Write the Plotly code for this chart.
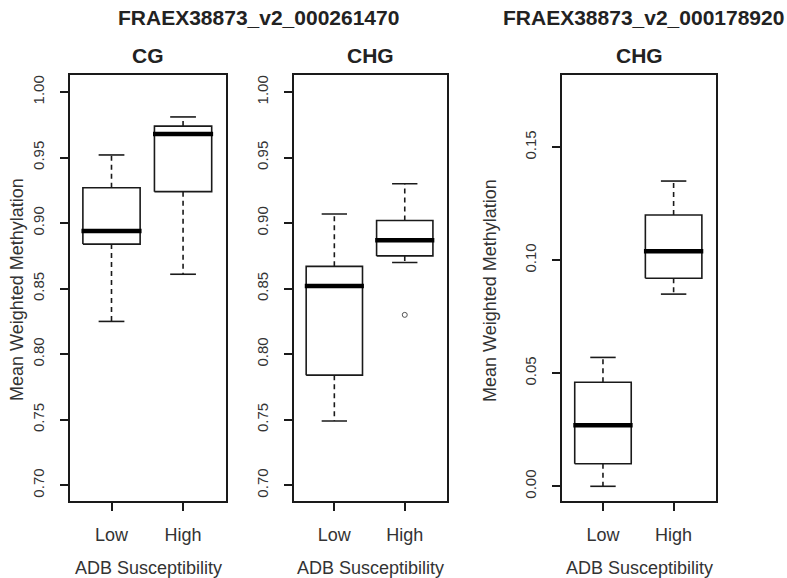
import plotly.graph_objects as go

# groups on the x axis
groups = ['Low', 'High']
xpos = [1, 2]

# five-number summaries (lower whisker, Q1, median, Q3, upper whisker)
cg_lo = [0.825, 0.861]
cg_q1 = [0.884, 0.924]
cg_med = [0.894, 0.968]
cg_q3 = [0.927, 0.974]
cg_hi = [0.952, 0.981]

chg1_lo = [0.749, 0.870]
chg1_q1 = [0.784, 0.875]
chg1_med = [0.852, 0.887]
chg1_q3 = [0.867, 0.902]
chg1_hi = [0.907, 0.930]
chg1_out_x = [2]
chg1_out_y = [0.830]

chg2_lo = [0.000, 0.085]
chg2_q1 = [0.010, 0.092]
chg2_med = [0.027, 0.104]
chg2_q3 = [0.046, 0.120]
chg2_hi = [0.057, 0.135]

gene_titles = ['FRAEX38873_v2_000261470', 'FRAEX38873_v2_000178920']
panel_titles = ['CG', 'CHG', 'CHG']
y_ticks_12 = [0.70, 0.75, 0.80, 0.85, 0.90, 0.95, 1.00]
y_ticks_3 = [0.00, 0.05, 0.10, 0.15]

W, H = 787, 578
FONT = 'Liberation Sans'
INK = '#1a1a1a'
BOXW = 0.4   # half box width in x units
CAPW = 0.18  # half staple width

fig = go.Figure()


def addBoxes(ax, lo, q1, med, q3, hi):
    xa = 'x' if ax == 1 else 'x%d' % ax
    ya = 'y' if ax == 1 else 'y%d' % ax
    for i, x in enumerate(xpos):
        # box outline
        fig.add_trace(go.Scatter(x=[x - BOXW, x + BOXW, x + BOXW, x - BOXW, x - BOXW],
                                 y=[q1[i], q1[i], q3[i], q3[i], q1[i]],
                                 mode='lines', line=dict(color=INK, width=1.6),
                                 xaxis=xa, yaxis=ya, hoverinfo='skip'))
        # dashed whiskers
        fig.add_trace(go.Scatter(x=[x, x, None, x, x],
                                 y=[q3[i], hi[i], None, q1[i], lo[i]],
                                 mode='lines', line=dict(color=INK, width=1.6, dash='5px,4px'),
                                 xaxis=xa, yaxis=ya, hoverinfo='skip'))
        # staples
        fig.add_trace(go.Scatter(x=[x - CAPW, x + CAPW, None, x - CAPW, x + CAPW],
                                 y=[hi[i], hi[i], None, lo[i], lo[i]],
                                 mode='lines', line=dict(color=INK, width=1.6),
                                 xaxis=xa, yaxis=ya, hoverinfo='skip'))
        # thick median
        fig.add_trace(go.Scatter(x=[x - BOXW - 0.02, x + BOXW + 0.02],
                                 y=[med[i], med[i]],
                                 mode='lines', line=dict(color='black', width=4.5),
                                 xaxis=xa, yaxis=ya, hoverinfo='skip'))


addBoxes(1, cg_lo, cg_q1, cg_med, cg_q3, cg_hi)
addBoxes(2, chg1_lo, chg1_q1, chg1_med, chg1_q3, chg1_hi)
addBoxes(3, chg2_lo, chg2_q1, chg2_med, chg2_q3, chg2_hi)
fig.add_trace(go.Scatter(x=chg1_out_x, y=chg1_out_y, mode='markers',
                         marker=dict(symbol='circle-open', size=5, color='#555', line=dict(width=1)),
                         xaxis='x2', yaxis='y2', hoverinfo='skip'))

xdoms = [[70 / W, 226 / W], [293.5 / W, 447 / W], [562 / W, 716 / W]]
ydom = [77 / H, 503 / H]

axis_common = dict(showline=True, linecolor=INK, linewidth=1.6, mirror=True,
                   showgrid=False, zeroline=False, ticks='outside', ticklen=8,
                   tickcolor=INK, tickwidth=1.6)

layout = dict(width=W, height=H, margin=dict(l=0, r=0, t=0, b=0),
              paper_bgcolor='white', plot_bgcolor='white', showlegend=False,
              font=dict(family=FONT, color=INK))

for k in range(3):
    sfx = '' if k == 0 else str(k + 1)
    layout['xaxis' + sfx] = dict(axis_common, domain=xdoms[k], range=[0.42, 2.6],
                                 tickvals=xpos, ticktext=groups, ticklabelstandoff=9,
                                 tickfont=dict(size=18, family=FONT, color='#333'),
                                 anchor='y' + sfx)
    if k < 2:
        yr, yt, fmt = [0.688, 1.013], y_ticks_12, '.2f'
    else:
        yr, yt, fmt = [-0.0065, 0.1819], y_ticks_3, '.2f'
    layout['yaxis' + sfx] = dict(axis_common, domain=ydom, range=yr, tickvals=yt,
                                 tickformat=fmt, tickangle=-90, ticklabelstandoff=10,
                                 tickfont=dict(size=15, family=FONT, color='#333'),
                                 anchor='x' + sfx)

fig.update_layout(**layout)

centers = [(d[0] + d[1]) / 2 for d in xdoms]
ann = []
ann.append(dict(text='<b>%s</b>' % gene_titles[0], x=258 / W, y=1 - 17 / H))
ann.append(dict(text='<b>%s</b>' % gene_titles[1], x=643 / W, y=1 - 17 / H))
for k in range(3):
    ann.append(dict(text='<b>%s</b>' % panel_titles[k], x=centers[k], y=1 - 55 / H))
for a in ann:
    a.update(xref='paper', yref='paper', showarrow=False, xanchor='center', yanchor='middle',
             font=dict(size=21, family=FONT, color='#222'))
for k in range(3):
    ann.append(dict(text='ADB Susceptibility', x=centers[k], y=1 - 568 / H, xref='paper', yref='paper',
                    showarrow=False, xanchor='center', yanchor='middle',
                    font=dict(size=18, family=FONT, color='#333')))
for xc in [17 / W, 490 / W]:
    ann.append(dict(text='Mean Weighted Methylation', x=xc, y=1 - 290 / H, xref='paper', yref='paper',
                    showarrow=False, xanchor='center', yanchor='middle', textangle=-90,
                    font=dict(size=18, family=FONT, color='#333')))
fig.update_layout(annotations=ann)

# drop the default page margin so the figure sits at the window's top-left corner
fig.write_html('out.html', config={'displayModeBar': False},
               post_script="document.body.style.margin='0';")
